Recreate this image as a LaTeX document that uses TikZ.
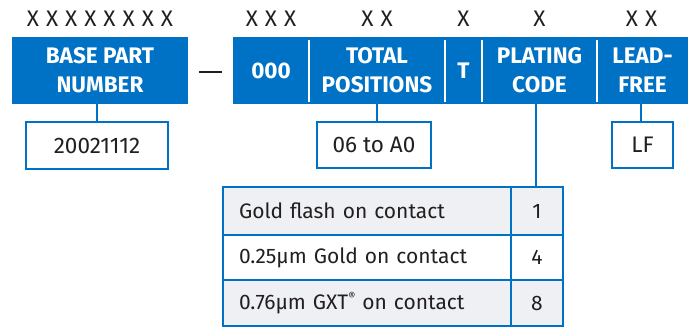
\documentclass[tikz,border=0pt]{standalone}
\usepackage{fontspec}
\setmainfont{Fira Sans}
\definecolor{teblue}{RGB}{0,114,198}
\definecolor{txt}{RGB}{35,31,32}
\definecolor{rowgray}{RGB}{238,240,243}
\newcommand{\xg}{\hspace{7pt}}
\begin{document}
\begin{tikzpicture}[x=1pt,y=-1pt,
  hdr/.style={fill=teblue,text=white,inner sep=0pt,align=center,
    font=\fontsize{22.5}{29}\selectfont\bfseries},
  xlab/.style={text=txt,inner sep=0pt,font=\fontsize{22.5}{24}\selectfont},
  valbox/.style={draw=teblue,line width=2pt,fill=white,text=txt,inner sep=0pt,
    font=\fontsize{22.5}{24}\selectfont},
  cell/.style={draw=teblue,line width=2pt,text=txt,inner sep=0pt,
    font=\fontsize{21}{24}\selectfont},
  conn/.style={draw=teblue,line width=2pt},
  divider/.style={draw=white,line width=1.6pt}]
\useasboundingbox (0,0) rectangle (696,327);
% header boxes
\node[hdr,minimum width=176pt,minimum height=67pt] (base) at (100,70.5) {BASE PART\\NUMBER};
\node[hdr,minimum width=76pt,minimum height=67pt] (s1) at (271,70.5) {000};
\node[hdr,minimum width=136pt,minimum height=67pt] (s2) at (377,70.5) {TOTAL\\POSITIONS};
\node[hdr,minimum width=37pt,minimum height=67pt] (s3) at (463.5,70.5) {T};
\node[hdr,minimum width=115pt,minimum height=67pt] (s4) at (539.5,70.5) {PLATING\\CODE};
\node[hdr,minimum width=91pt,minimum height=67pt] (s5) at (642.5,70.5) {LEAD-\\FREE};
% dividers
\foreach \a/\b in {s1/s2,s2/s3,s3/s4,s4/s5}
  \draw[divider] ([yshift=-3pt]\a.north east) -- ([yshift=2pt]\a.south east);
% dash
\coordinate (d1) at (199,72);
\coordinate (d2) at (222,72);
\draw[txt,line width=1.6pt] (d1) -- (d2);
% X labels
\node[xlab] (x0) at (100,19) {X\xg X\xg X\xg X\xg X\xg X\xg X\xg X};
\node[xlab] (x1) at (271,19) {X\xg X\xg X};
\node[xlab] (x2) at (377,19) {X\xg X};
\node[xlab] (x3) at (463.5,19) {X};
\node[xlab] (x4) at (539.5,19) {X};
\node[xlab] (x5) at (641.5,19) {X\xg X};
% value boxes
\node[valbox,minimum width=142pt,minimum height=47pt] (v1) at (97,145.5) {20021112};
\node[valbox,minimum width=114pt,minimum height=46pt] (v2) at (374,145) {06 to A0};
\node[valbox,minimum width=61pt,minimum height=46pt] (v3) at (642.5,145) {LF};
\draw[conn] (v1.north) -- (v1.north |- base.south);
\draw[conn] (377,104) -- (377,122);
\draw[conn] (641,104) -- (641,122);
% table
\tikzset{lcell/.style={cell,anchor=north west,minimum width=288pt,text width=256pt,align=left,inner xsep=16pt},
  rcell/.style={cell,anchor=north west,minimum width=52pt,align=center}}
\node[lcell,fill=rowgray,minimum height=48pt] (r1a) at (222,186) {Gold flash on contact};
\node[rcell,fill=rowgray,minimum height=48pt] (r1b) at (510,186) {1};
\node[lcell,fill=white,minimum height=45pt] (r2a) at (222,234) {0.25µm Gold on contact};
\node[rcell,fill=white,minimum height=45pt] (r2b) at (510,234) {4};
\node[lcell,fill=rowgray,minimum height=46pt] (r3a) at (222,279) {0.76µm GXT\raisebox{0.45em}{\fontsize{11}{12}\selectfont®} on contact};
\node[rcell,fill=rowgray,minimum height=46pt] (r3b) at (510,279) {8};
\draw[conn] (536,104) -- (536,186);
\end{tikzpicture}
\end{document}
